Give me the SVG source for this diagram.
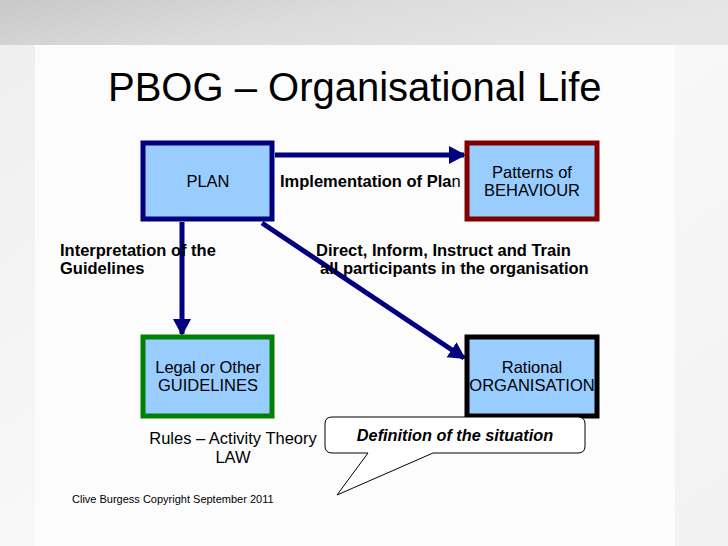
<svg xmlns="http://www.w3.org/2000/svg" width="728" height="546" viewBox="0 0 728 546">
<defs>
<linearGradient id="top" x1="0" y1="0" x2="1" y2="0.3">
<stop offset="0" stop-color="#c8c8c8"/>
<stop offset="0.5" stop-color="#dcdcdc"/>
<stop offset="1" stop-color="#e6e6e6"/>
</linearGradient>
<linearGradient id="bg" x1="0" y1="0" x2="1" y2="1">
<stop offset="0" stop-color="#eeeeee"/>
<stop offset="0.5" stop-color="#f8f8f8"/>
<stop offset="1" stop-color="#f2f2f2"/>
</linearGradient>
<marker id="ah" markerWidth="20" markerHeight="20" refX="15" refY="10" orient="auto" markerUnits="userSpaceOnUse">
<path d="M0,1 L17,10 L0,19 z" fill="#000080"/>
</marker>
<style>
.box{fill:#99ccff;stroke-width:5}
.t{font-family:"Liberation Sans",Arial,sans-serif;font-size:16.5px;fill:#000;text-anchor:middle}
.lb{font-family:"Liberation Sans",Arial,sans-serif;font-size:16.5px;font-weight:bold;fill:#000}
.conn{stroke:#000080;stroke-width:5;fill:none;marker-end:url(#ah)}
</style>
</defs>
<rect width="728" height="546" fill="url(#bg)"/>
<rect x="0" y="0" width="728" height="45" fill="url(#top)"/>
<rect x="35" y="45" width="640" height="501" fill="#fcfcfc"/>
<text x="108" y="101" font-family="Liberation Sans,Arial,sans-serif" font-size="40" fill="#000">PBOG – Organisational Life</text>
<g id="connectors">
<line class="conn" x1="275" y1="155" x2="464" y2="155"/>
<line class="conn" x1="182" y1="222" x2="182" y2="334"/>
<line class="conn" x1="262" y1="223" x2="464" y2="358"/>
</g>
<g id="plan"><rect class="box" x="143" y="143" width="129" height="76" stroke="#000080"/><text class="t" x="208" y="187">PLAN</text></g>
<g id="patterns"><rect class="box" x="467" y="143" width="130" height="76" stroke="#800000"/><text class="t" x="532" y="178">Patterns of</text><text class="t" x="532" y="196">BEHAVIOUR</text></g>
<g id="guidelines"><rect class="box" x="143" y="337" width="129" height="79" stroke="#008000"/><text class="t" x="208" y="373">Legal or Other</text><text class="t" x="208" y="391">GUIDELINES</text></g>
<g id="rational"><rect class="box" x="467" y="337" width="130" height="79" stroke="#000000"/><text class="t" x="532" y="373">Rational</text><text class="t" x="532" y="391">ORGANISATION</text></g>
<g id="labels">
<text class="lb" x="280" y="187">Implementation of Pla<tspan font-weight="normal">n</tspan></text>
<text class="lb" x="60" y="256">Interpretation of the</text>
<text class="lb" x="60" y="274">Guidelines</text>
<text class="lb" x="316" y="256">Direct, Inform, Instruct and Train</text>
<text class="lb" x="320" y="274">all participants in the organisation</text>
<text class="t" x="233" y="444">Rules – Activity Theory</text>
<text class="t" x="233" y="463">LAW</text>
</g>
<g id="callout">
<path d="M332,417 L578,417 Q585,417 585,424 L585,446 Q585,453 578,453 L433,453 L337,495 L368,453 L332,453 Q325,453 325,446 L325,424 Q325,417 332,417 Z" fill="#ffffff" stroke="#000" stroke-width="1"/>
<text x="455" y="441" font-family="Liberation Sans,Arial,sans-serif" font-size="16.3" font-weight="bold" font-style="italic" text-anchor="middle">Definition of the situation</text>
</g>
<text x="72" y="503" font-family="Liberation Sans,Arial,sans-serif" font-size="11" fill="#000">Clive Burgess Copyright September 2011</text>
</svg>
